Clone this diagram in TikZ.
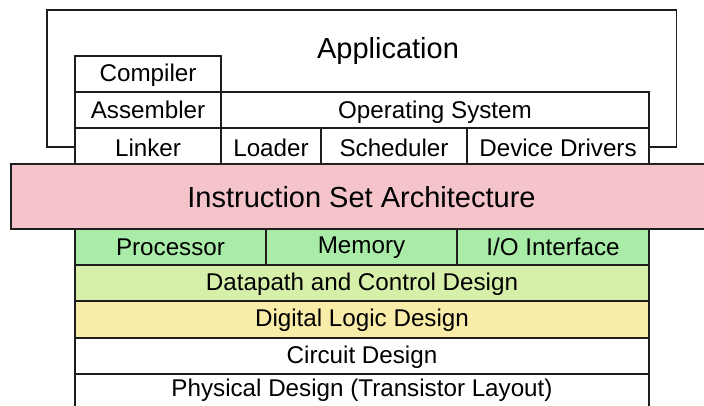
\documentclass[tikz,border=0pt]{standalone}
\usepackage{fontspec}
\setmainfont{Liberation Sans}
\definecolor{edge}{HTML}{1E1E1E}
\definecolor{isafill}{HTML}{F4C4CA}
\definecolor{hwfill}{HTML}{A8ECA8}
\definecolor{dpfill}{HTML}{D6F0AA}
\definecolor{dlfill}{HTML}{F8ECA8}
\tikzset{
  cell/.style={draw=edge, line width=1.6pt, inner sep=0pt, text height=17pt, text depth=0pt,
    font=\fontsize{24.2pt}{28pt}\selectfont},
  bigcell/.style={cell, text height=22pt, font=\fontsize{29pt}{34pt}\selectfont},
  outline/.style={draw=edge, line width=1.6pt},
}
% box from (x1,y1) to (x2,y2), in pixel-like units with y downward
\newcommand{\layerbox}[7][]{%
  \node[cell,#1, minimum width={(#5-#3)*1pt}, minimum height={(#6-#4)*1pt}]
    (#2) at ({(#3+#5)/2},{(#4+#6)/2}) {#7};}
\begin{document}
\begin{tikzpicture}[x=1pt,y=-1pt]
\useasboundingbox (0,0) rectangle (704,405);
\begin{scope}
\clip (0,0) rectangle (704,405);
% application frame
\coordinate (appL) at (75,147);
\coordinate (appR) at (649,147);
\draw[outline] (appL) -- (47,147) -- (47,10) -- (676.5,10) -- (676.5,147) -- (appR);
\node[inner sep=0pt, text height=18.6pt, text depth=0pt, font=\fontsize{29pt}{34pt}\selectfont]
  (app) at (388,49) {Application};
% software layers
\layerbox[text height=14pt]{comp}{75}{56}{221}{92}{Compiler}
\layerbox{asm}{75}{92}{221}{128}{Assembler}
\layerbox{os}{221}{92}{649}{128}{Operating System}
\layerbox[text height=20pt]{link}{75}{128}{221}{164}{Linker}
\layerbox[text height=20pt]{load}{221}{128}{321}{164}{Loader}
\layerbox[text height=20pt]{sched}{321}{128}{467}{164}{Scheduler}
\layerbox[text height=20pt]{dev}{467}{128}{649}{164}{Device Drivers}
% ISA
\layerbox[bigcell, fill=isafill]{isa}{11}{164}{712}{229}{Instruction Set Architecture}
% hardware layers
\layerbox[fill=hwfill]{proc}{75}{229}{266}{265}{Processor}
\layerbox[fill=hwfill]{mem}{266}{229}{457}{265}{\raisebox{2pt}{Memory}}
\layerbox[fill=hwfill]{io}{457}{229}{649}{265}{I/O Interface}
\layerbox[fill=dpfill, text height=15.5pt]{dp}{75}{265}{649}{301}{Datapath and Control Design}
\layerbox[fill=dlfill, text height=14.5pt]{dl}{75}{301}{649}{338}{Digital Logic Design}
\layerbox[text height=14pt]{cd}{75}{338}{649}{374}{Circuit Design}
\layerbox[text height=9.5pt]{pd}{75}{374}{649}{410}{Physical Design (Transistor Layout)}
\end{scope}
\end{tikzpicture}
\end{document}
